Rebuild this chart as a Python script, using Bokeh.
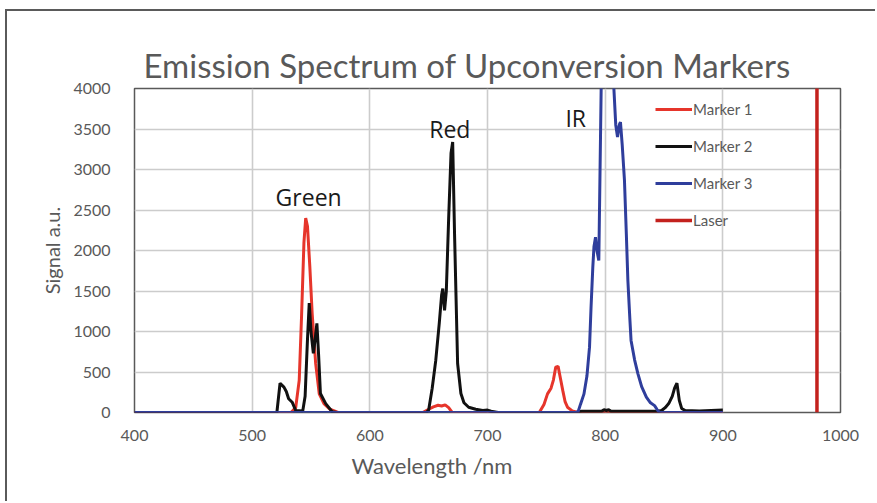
from bokeh.plotting import figure
from bokeh.models import Legend, LegendItem, FixedTicker, ColumnDataSource, Title
from bokeh.embed import file_html
from bokeh.resources import INLINE
from bokeh.core.properties import value

# ---------------- data ----------------
x_ticks = [400, 500, 600, 700, 800, 900, 1000]
y_ticks = [0, 500, 1000, 1500, 2000, 2500, 3000, 3500, 4000]

series_names = ["Marker 1", "Marker 2", "Marker 3", "Laser"]

m1_wl = [400, 533, 537, 540, 542, 544, 545.5, 547, 549, 551, 554, 557, 561, 566, 573,
         645, 650, 654, 658, 661, 664, 667, 670,
         744, 748, 751, 754, 756, 758, 760, 762, 764, 766, 768, 772, 777, 900]
m1_sig = [0, 0, 60, 400, 1200, 2100, 2400, 2300, 1800, 1220, 600, 230, 110, 40, 0,
          0, 40, 70, 90, 80, 95, 60, 0,
          0, 100, 230, 300, 400, 560, 570, 420, 270, 130, 65, 20, 0, 0]

m2_wl = [400, 521, 523.7, 527, 529, 531, 534, 537, 543, 545, 547, 548.5, 550, 552, 553.5,
         555, 556.5, 558, 562.5, 568, 572,
         648, 650, 653, 656, 659, 661, 662, 663.5, 665, 667, 669, 670.4, 672, 674.6,
         677.4, 680, 684, 690, 696, 700, 703, 709,
         776, 780, 797, 799, 801, 803, 805, 845, 848, 851, 854, 857, 859, 861, 863,
         865, 868, 880, 890, 900]
m2_sig = [0, 0, 362, 313, 260, 170, 127, 25, 20, 200, 900, 1350, 1000, 730, 900,
          1100, 700, 235, 110, 10, 0,
          0, 30, 300, 640, 1100, 1450, 1530, 1260, 1500, 2400, 3200, 3340, 2200, 605,
          235, 120, 65, 40, 25, 30, 15, 0,
          0, 15, 15, 35, 25, 35, 15, 15, 25, 60, 110, 200, 300, 362, 150,
          50, 25, 20, 25, 30]

m3_wl = [400, 775, 777, 779, 782, 784.5, 786.7, 788, 789.5, 790.5, 791.8, 793, 794.6,
         796.6, 798.5, 802, 805.5, 807.4, 809, 810.5, 812, 813, 814.5, 816.4, 818,
         819.3, 821, 822, 825, 827.8, 831, 835, 838.5, 842, 844, 846, 900]
m3_sig = [0, 0, 10, 100, 230, 450, 807, 1300, 1795, 2050, 2165, 2000, 1877,
          4000, 5200, 5800, 5200, 4000, 3550, 3400, 3550, 3585, 3300, 2865, 2200,
          1630, 1150, 890, 650, 480, 320, 190, 120, 85, 40, 0, 0]

laser_wl = [980, 980]
laser_sig = [0, 4500]

band_names = ["Green", "Red", "IR"]

# ---------------- figure ----------------
p = figure(width=870, height=492, x_range=(400, 1000), y_range=(0, 4000),
           output_backend="svg", toolbar_location=None,
           min_border_left=127, min_border_right=37, min_border_top=77, min_border_bottom=91,
           title="Emission Spectrum of Upconversion Markers")
p.styles = {"border-left": "2px solid #5a5a5a", "border-top": "2px solid #5a5a5a",
            "margin-left": "5px", "margin-top": "9px"}

p.title.text_font = "Lato"
p.title.text_font_size = "33px"
p.title.text_font_style = "normal"
p.title.text_color = "#595959"
p.title.align = "left"
p.title.offset = 9
p.title.standoff = 7

p.outline_line_color = "#595959"
p.outline_line_width = 1.5
p.background_fill_color = "white"
p.border_fill_color = "white"

for ax in (p.xaxis[0], p.yaxis[0]):
    ax.axis_line_color = None
    ax.major_tick_line_color = None
    ax.minor_tick_line_color = None
    ax.major_label_text_font = "Lato"
    ax.major_label_text_font_size = "16px"
    ax.major_label_text_color = "#595959"
    ax.axis_label_text_font = "Lato"
    ax.axis_label_text_font_size = "20px"
    ax.axis_label_text_font_style = "normal"
    ax.axis_label_text_color = "#595959"

p.xaxis.ticker = FixedTicker(ticks=x_ticks)
p.yaxis.ticker = FixedTicker(ticks=y_ticks)
p.yaxis.axis_label = "Signal a.u."
p.xaxis.major_label_standoff = 11
p.yaxis.major_label_standoff = 18
p.yaxis.axis_label_standoff = 6

xlabel = Title(text="Wavelength /nm", align="left", offset=217, standoff=12,
               text_font="Lato", text_font_size="22px", text_font_style="normal",
               text_color="#595959")
p.add_layout(xlabel, "below")

p.xgrid.grid_line_color = "#cccccc"
p.ygrid.grid_line_color = "#cccccc"
p.xgrid.grid_line_width = 1.6
p.ygrid.grid_line_width = 1.6

r1 = p.line(m1_wl, m1_sig, line_color="#e6352b", line_width=3)
r2 = p.line(m2_wl, m2_sig, line_color="#111111", line_width=3)
r3 = p.line(m3_wl, m3_sig, line_color="#2f3e9c", line_width=3)
r4 = p.line(laser_wl, laser_sig, line_color="#c3211d", line_width=3.5)

band_src = ColumnDataSource(dict(x=[548, 668, 775], y=[2655, 3495, 3630], t=band_names))
p.text(x="x", y="y", text="t", source=band_src, text_font=value("Open Sans"),
       text_font_size="23px", text_color="#1a1a1a", text_align="center",
       text_baseline="middle")

legend = Legend(items=[LegendItem(label=n, renderers=[r]) for n, r in
                       zip(series_names, [r1, r2, r3, r4])],
                location=(521, 182))
legend.background_fill_alpha = 0
legend.border_line_color = None
legend.padding = 0
legend.margin = 0
legend.spacing = 17
legend.glyph_width = 37
legend.glyph_height = 20
legend.label_height = 20
legend.label_standoff = 1
legend.label_text_font = "Lato"
legend.label_text_font_size = "15px"
legend.label_text_color = "#595959"
p.add_layout(legend)

open("out.html", "w").write(file_html(p, INLINE))
